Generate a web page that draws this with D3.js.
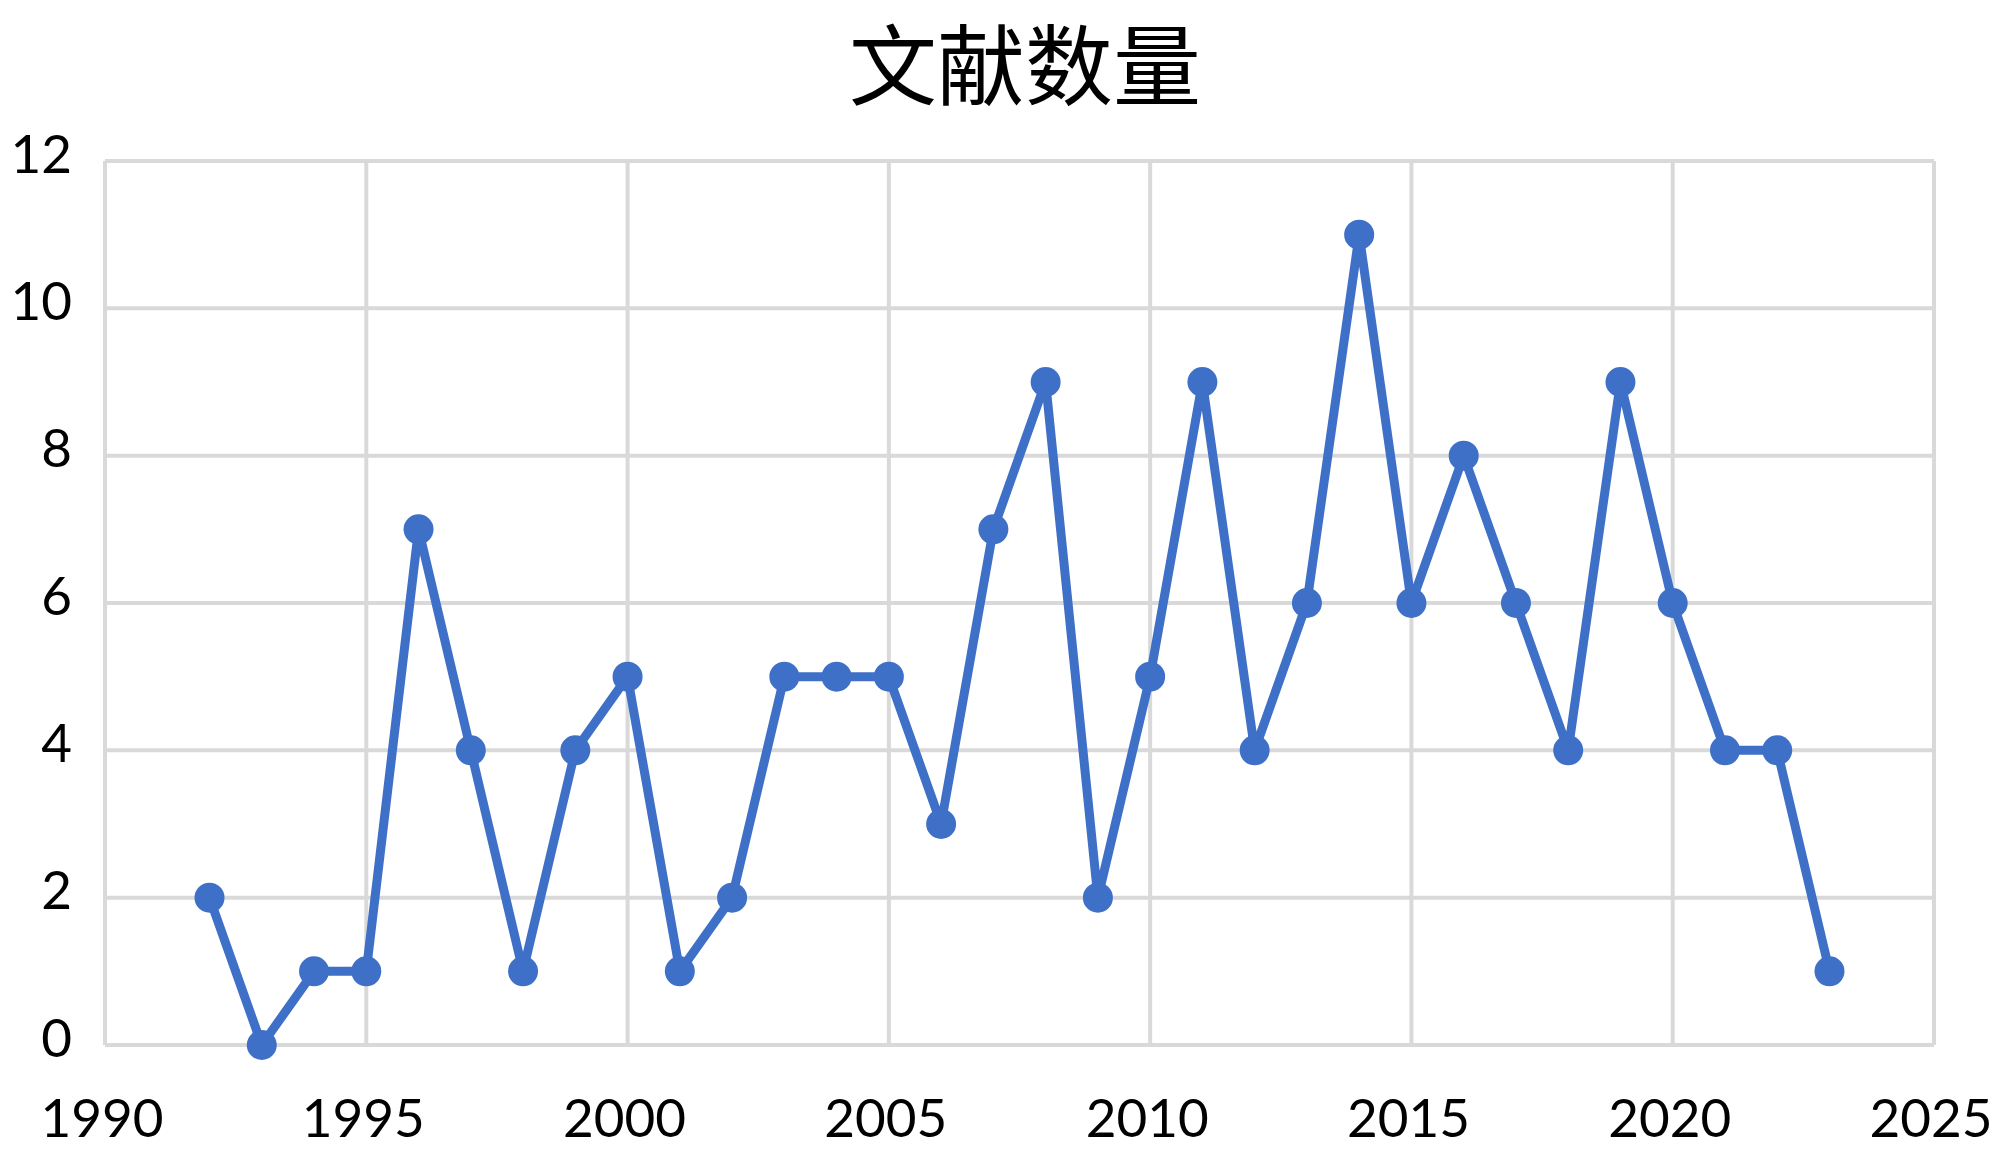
<!DOCTYPE html>
<html>
<head>
<meta charset="utf-8">
<script src="https://cdn.jsdelivr.net/npm/d3@7"></script>
<style>
  body { margin: 0; background: #fff; }
</style>
</head>
<body>
<div id="chart"></div>
<script>
const width = 2000;
const height = 1160;

const chartTitle = "文献数量";
const years = [1992, 1993, 1994, 1995, 1996, 1997, 1998, 1999, 2000, 2001, 2002,
    2003, 2004, 2005, 2006, 2007, 2008, 2009, 2010, 2011, 2012, 2013, 2014,
    2015, 2016, 2017, 2018, 2019, 2020, 2021, 2022, 2023];
const counts = [2, 0, 1, 1, 7, 4, 1, 4, 5, 1, 2,
    5, 5, 5, 3, 7, 9, 2, 5, 9, 4, 6, 11,
    6, 8, 6, 4, 9, 6, 4, 4, 1];
const xTicks = [1990, 1995, 2000, 2005, 2010, 2015, 2020, 2025];
const yTicks = [0, 2, 4, 6, 8, 10, 12];

const margin = { top: 161, right: 66, bottom: 115, left: 105 };
const blue = "#3f70c8";
const gridColor = "#d9d9d9";

const svg = d3.select("#chart")
    .append("svg")
    .attr("width", width)
    .attr("height", height);

const x = d3.scaleLinear()
    .domain([1990, 2025])
    .range([margin.left, width - margin.right]);

const y = d3.scaleLinear()
    .domain([0, 12])
    .range([height - margin.bottom, margin.top]);

// gridlines
svg.append("g")
    .selectAll("line.v")
    .data(xTicks)
    .enter()
    .append("line")
    .attr("x1", d => x(d))
    .attr("x2", d => x(d))
    .attr("y1", y(12))
    .attr("y2", y(0))
    .style("stroke", gridColor)
    .style("stroke-width", 4);

svg.append("g")
    .selectAll("line.h")
    .data(yTicks)
    .enter()
    .append("line")
    .attr("x1", x(1990))
    .attr("x2", x(2025))
    .attr("y1", d => y(d))
    .attr("y2", d => y(d))
    .style("stroke", gridColor)
    .style("stroke-width", 4);

// tick labels
svg.append("g")
    .selectAll("text")
    .data(yTicks)
    .enter()
    .append("text")
    .attr("x", 72)
    .attr("y", d => y(d) - 9)
    .attr("text-anchor", "end")
    .attr("dominant-baseline", "central")
    .style("font-family", "Lato, 'Open Sans', sans-serif")
    .style("font-size", "53px")
    .style("fill", "#000")
    .text(d => d);

svg.append("g")
    .selectAll("text")
    .data(xTicks)
    .enter()
    .append("text")
    .attr("x", d => x(d) - 3)
    .attr("y", 1137)
    .attr("text-anchor", "middle")
    .style("font-family", "Lato, 'Open Sans', sans-serif")
    .style("font-size", "53px")
    .style("fill", "#000")
    .text(d => d);

// title
svg.append("text")
    .attr("x", 1025)
    .attr("y", 98)
    .attr("text-anchor", "middle")
    .style("font-family", "'Noto Sans CJK SC', sans-serif")
    .style("font-size", "88px")
    .style("font-weight", 400)
    .style("fill", "#000")
    .text(chartTitle);

// series
const points = years.map((yr, i) => ({ year: yr, value: counts[i] }));

const line = d3.line()
    .x(d => x(d.year))
    .y(d => y(d.value));

svg.append("path")
    .datum(points)
    .attr("d", line)
    .style("fill", "none")
    .style("stroke", blue)
    .style("stroke-width", 9)
    .style("stroke-linejoin", "round");

svg.append("g")
    .selectAll("circle")
    .data(points)
    .enter()
    .append("circle")
    .attr("cx", d => x(d.year))
    .attr("cy", d => y(d.value))
    .attr("r", 15)
    .style("fill", blue);
</script>
</body>
</html>
